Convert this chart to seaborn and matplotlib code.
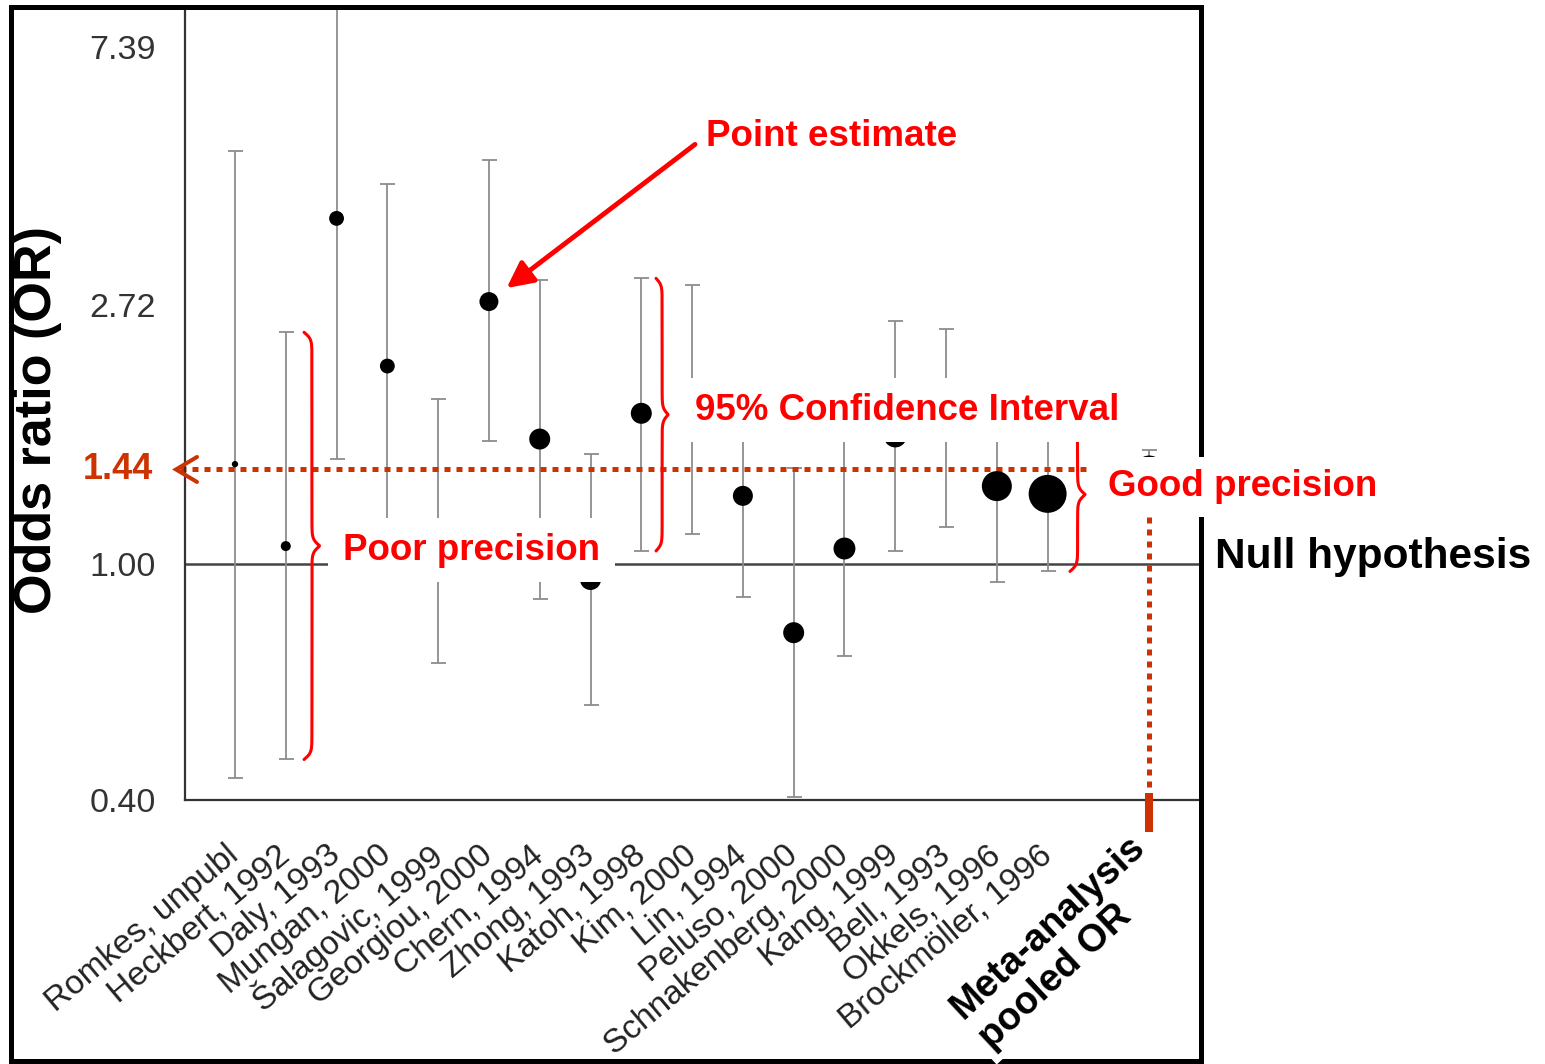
import numpy as np
import pandas as pd
import matplotlib
matplotlib.use("Agg")
import matplotlib.pyplot as plt
import seaborn as sns
from matplotlib.patches import Rectangle
from matplotlib.lines import Line2D
from matplotlib import transforms
from matplotlib.ticker import NullLocator, NullFormatter

# ---------------------------------------------------------------- data
studies = ["Romkes, unpubl", "Heckbert, 1992", "Daly, 1993", "Mungan, 2000",
           "Šalagovic, 1999", "Georgiou, 2000", "Chern, 1994", "Zhong, 1993",
           "Katoh, 1998", "Kim, 2000", "Lin, 1994", "Peluso, 2000",
           "Schnakenberg, 2000", "Kang, 1999", "Bell, 1993", "Okkels, 1996",
           "Brockmöller, 1996"]
odds_ratio = [1.47, 1.07, 3.81, 2.15, 1.13, 2.76, 1.62, 0.94, 1.79, 1.81,
              1.30, 0.765, 1.06, 1.64, 1.69, 1.35, 1.31]
ci_low = [0.436, 0.468, 1.50, 1.06, 0.68, 1.61, 0.87, 0.577, 1.05, 1.12,
          0.88, 0.405, 0.70, 1.05, 1.15, 0.93, 0.97]
ci_high = [4.94, 2.45, 9.65, 4.36, 1.89, 4.77, 3.00, 1.53, 3.02, 2.94,
           1.93, 1.45, 1.62, 2.56, 2.48, 1.96, 1.76]
weights = [0.4, 1.0, 2.2, 2.2, 2.2, 3.6, 4.4, 4.4, 4.4, 4.4,
           4.0, 4.4, 4.8, 5.3, 5.3, 9.0, 14.4]

pooled_label = "Meta-analysis\npooled OR"
pooled_or = 1.44
pooled_low = 1.34
pooled_high = 1.55
pooled_weight = 7.8

y_ticks = [0.40, 1.00, 2.72, 7.39]
y_tick_labels = ["0.40", "1.00", "2.72", "7.39"]
null_value = 1.00

# ---------------------------------------------------------------- style
sns.set_theme(style="white")
plt.rcParams["font.family"] = ["Liberation Sans", "DejaVu Sans"]

W, H = 1545, 1064
RED = "#FF0000"
RUST = "#CC3300"
GREY_BAR = "#8c8c8c"
AXIS = "#333333"


def fig_xy(x, y):
    """Pixel position (origin top-left) to figure fraction."""
    return x / W, 1 - y / H


study_pos = np.arange(len(studies))
pooled_pos = len(studies) + 1

df = pd.DataFrame({
    "study": studies + [pooled_label],
    "pos": list(study_pos) + [pooled_pos],
    "or": odds_ratio + [pooled_or],
    "low": ci_low + [pooled_low],
    "high": ci_high + [pooled_high],
    "weight": weights + [pooled_weight],
})

fig = plt.figure(figsize=(W / 100, H / 100), dpi=100)
ax = fig.add_axes([185 / W, 1 - 800 / H, (1200 - 185) / W, (800 - 8) / H])

ax.set_yscale("log")
ax.set_ylim(0.40, 8.61)
ax.set_xlim(-0.984, 19.0)

# null hypothesis line
ax.axhline(null_value, color="#444444", lw=1.8, zorder=1.5)

# confidence intervals
ax.errorbar(df["pos"], df["or"],
            yerr=[df["or"] - df["low"], df["high"] - df["or"]],
            fmt="none", ecolor=GREY_BAR, elinewidth=1.3, capsize=5.4,
            capthick=1.3, zorder=2)

# point estimates, area proportional to study weight
k_area = 51.84
wmin, wmax = df["weight"].min(), df["weight"].max()
sns.scatterplot(data=df, x="pos", y="or", size="weight",
                sizes=(k_area * wmin, k_area * wmax), size_norm=(wmin, wmax),
                color="black", edgecolor="none", linewidth=0, legend=False,
                ax=ax, zorder=3)

# axes styling
sns.despine(ax=ax)
for side in ("left", "bottom"):
    ax.spines[side].set_color(AXIS)
    ax.spines[side].set_linewidth(1.6)

ax.set_yticks(y_ticks)
ax.set_yticklabels(y_tick_labels)
ax.yaxis.set_minor_locator(NullLocator())
ax.yaxis.set_minor_formatter(NullFormatter())
ax.tick_params(axis="y", length=12.2, width=1.4, color=AXIS, pad=9,
               labelsize=24.5, labelcolor=AXIS)

ax.set_xticks(study_pos)
ax.set_xticklabels(studies, rotation=40, ha="right", va="center",
                   rotation_mode="anchor")
ax.tick_params(axis="x", length=13, width=1.4, color=AXIS, pad=24,
               labelsize=24, labelcolor="#222222")

ax.set_xlabel("")
ax.set_ylabel("Odds ratio (OR)", fontsize=37.5, fontweight="bold",
              color="black")
ax.yaxis.set_label_coords(-0.121, 0.48)

# ---------------------------------------------------------------- annotations
# dotted pooled-OR reference lines
dot_style = dict(color=RUST, lw=3.6, ls=(0, (1.2, 1.2)), dash_capstyle="butt",
                 clip_on=False)
ax.plot([-1.08, 16.79], [pooled_or, pooled_or], zorder=2.5, **dot_style)
ax.plot([pooled_pos, pooled_pos], [pooled_or, ax.get_ylim()[0]], zorder=2.5,
        **dot_style)
xa = ax.get_xaxis_transform()
ax.add_line(Line2D([pooled_pos, pooled_pos], [0.0088, -0.0404], transform=xa,
                   color=RUST, lw=5.8, solid_capstyle="butt", clip_on=False,
                   zorder=5))

# open arrowhead and value of the pooled OR on the y axis
blend = transforms.blended_transform_factory(fig.transFigure, ax.transData)
k = np.exp(12.5 / 258)
fig.add_artist(Line2D([197 / W, 176 / W, 197 / W],
                      [pooled_or * k, pooled_or, pooled_or / k],
                      transform=blend, color=RUST, lw=2.9,
                      solid_capstyle="round", solid_joinstyle="miter",
                      zorder=5))
fig.text(153 / W, pooled_or, f"{pooled_or:.2f}", transform=blend, ha="right",
         va="center", color=RUST, fontsize=26, fontweight="bold", zorder=5)


def brace(x0, lo, hi, depth, lw=2.2, color=RED, zorder=6):
    """Vertical curly brace from lo to hi at x0, tip pointing right."""
    t = np.linspace(0, 1, 600)
    p0 = ax.transData.transform((x0, lo))[1]
    p1 = ax.transData.transform((x0, hi))[1]
    length = abs(p1 - p0)
    s = t * length
    half = length / 2
    beta = 0.3
    sh = np.where(s <= half, s, length - s)
    off = (1 / (1 + np.exp(-beta * sh))
           + 1 / (1 + np.exp(-beta * (sh - half))) - 0.5)
    xs = x0 + depth * off
    ys = np.exp(np.log(lo) + t * (np.log(hi) - np.log(lo)))
    ax.plot(xs, ys, color=color, lw=lw, clip_on=False, zorder=zorder,
            solid_capstyle="round")


i_heck = studies.index("Heckbert, 1992")
i_katoh = studies.index("Katoh, 1998")
i_brock = studies.index("Brockmöller, 1996")
brace(i_heck + 0.36, ci_low[i_heck], ci_high[i_heck], 0.31)
brace(i_katoh + 0.29, ci_low[i_katoh], ci_high[i_katoh], 0.24)
brace(i_brock + 0.44, ci_low[i_brock], ci_high[i_brock], 0.30)

label_kw = dict(color=RED, fontsize=26.5, fontweight="bold", ha="left",
                va="center")
box = dict(boxstyle="square,pad=0.33", facecolor="white", edgecolor="none")
wide_box = dict(boxstyle="square,pad=0.4", facecolor="white", edgecolor="none")

ax.text(*fig_xy(343, 550), "Poor precision", transform=fig.transFigure,
        bbox=wide_box, zorder=10, **label_kw)
ax.text(*fig_xy(695, 410), "95% Confidence Interval", transform=fig.transFigure,
        bbox=wide_box, zorder=10, **label_kw)

i_geo = studies.index("Georgiou, 2000")
ax.annotate("Point estimate", xy=(i_geo, odds_ratio[i_geo]), xycoords="data",
            xytext=fig_xy(706, 136), textcoords="figure fraction",
            arrowprops=dict(arrowstyle="-|>,head_length=0.6,head_width=0.3",
                            color=RED, lw=3.5, relpos=(0, 0.5), shrinkA=7,
                            shrinkB=16),
            zorder=10, **label_kw)

# outer frame of the figure
fig.add_artist(Rectangle((10.5 / W, 3 / H), (1200.5 - 10.5) / W,
                         (1061 - 6.5) / H, transform=fig.transFigure,
                         fill=False, edgecolor="black", lw=3.6, zorder=2))

fig.text(*fig_xy(1108, 487), "Good precision", bbox=box, zorder=4, **label_kw)
fig.text(*fig_xy(1215, 557), "Null hypothesis", color="black", fontsize=30.5,
         fontweight="bold", ha="left", va="center", zorder=4)
fig.text(*fig_xy(1154, 857), pooled_label, color="black", fontsize=27.5,
         fontweight="bold", rotation=43, rotation_mode="anchor", ha="right",
         va="center", multialignment="left", linespacing=1.2,
         bbox=dict(boxstyle="square,pad=0.15", facecolor="white",
                   edgecolor="none"), zorder=4)

fig.savefig("out.png", dpi=100, facecolor="white")
